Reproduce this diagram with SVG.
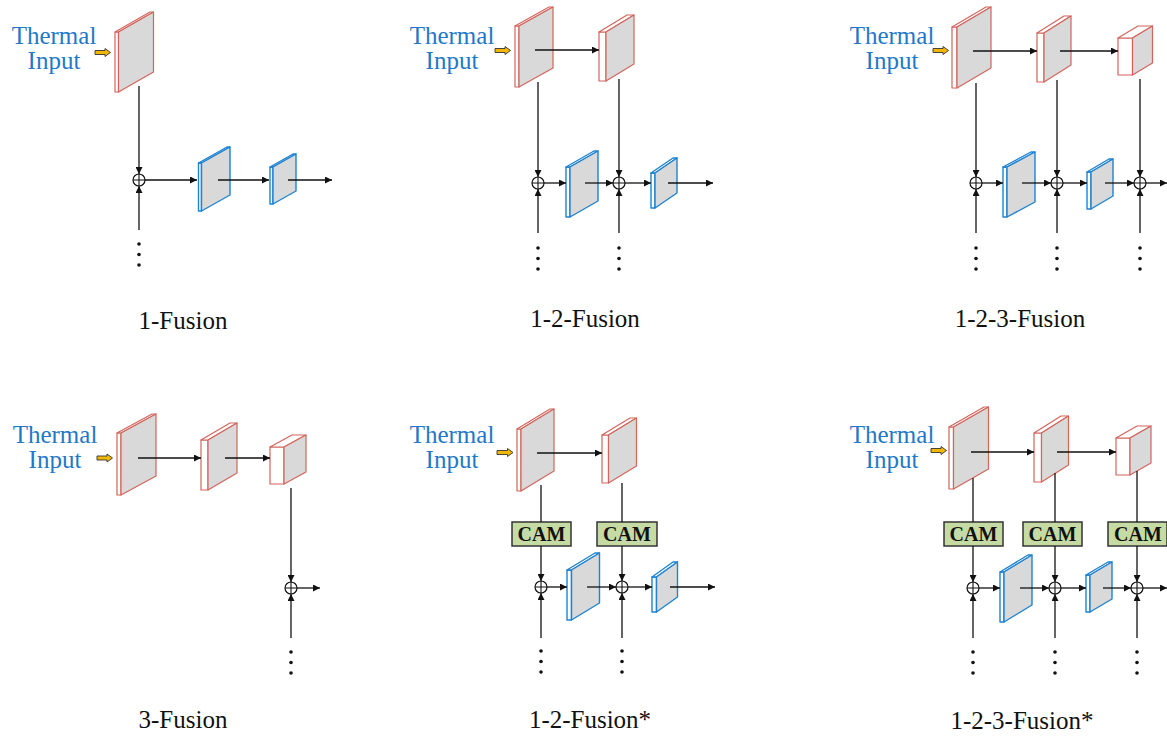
<svg xmlns="http://www.w3.org/2000/svg" width="1167" height="737" viewBox="0 0 1167 737">
<style>
.th{font-family:"Liberation Serif","Times New Roman",serif;font-size:25px;fill:#1f78c8;text-anchor:middle}
.cap{font-family:"Liberation Serif","Times New Roman",serif;font-size:25px;fill:#111;text-anchor:middle}
.cam rect{fill:#c6dba3;stroke:#333;stroke-width:1.5}
.cam text{font-family:"Liberation Serif","Times New Roman",serif;font-size:20px;font-weight:bold;fill:#111;text-anchor:middle}
.r rect,.r polygon{fill:#fff;stroke:#d4655d;stroke-width:1.2;stroke-linejoin:round}
.b rect,.b polygon{fill:#fff;stroke:#1f83d2;stroke-width:1.4;stroke-linejoin:round}
.r .s,.b .s{fill:#d9d9d9}
.ya{fill:#f2b705;stroke:#333;stroke-width:0.9}
.ln{stroke:#111;stroke-width:1.3;fill:none}
.ar{stroke:#111;stroke-width:1.3;fill:none;marker-end:url(#ah)}
.sum{fill:#fff;stroke:#111;stroke-width:1.2}
.dot{fill:#111}
</style>
<defs>
<marker id="ah" viewBox="0 0 10 10" refX="10" refY="5" markerWidth="10" markerHeight="7" markerUnits="userSpaceOnUse" orient="auto"><path d="M0,0 L10,5 L0,10 z" fill="#111"/></marker>
<g id="plus"><circle class="sum" r="6"/><path d="M-6,0H6M0,-6V6" stroke="#111" stroke-width="1.1"/></g>
<g id="dots"><circle class="dot" cx="0" cy="0" r="1.8"/><circle class="dot" cx="0" cy="10.5" r="1.8"/><circle class="dot" cx="0" cy="21" r="1.8"/></g>
</defs>

<!-- ===== Panel 1: 1-Fusion ===== -->
<g id="p1-input"><text class="th" x="54" y="44">Thermal</text><text class="th" x="54" y="69">Input</text>
<path class="ya" d="M95,50.5H105V48.5L110.5,52.5L105,56.5V54.5H95Z"/></g>
<g id="p1-t1" class="r"><rect x="115" y="32" width="3.5" height="60"/><polygon points="115,32 118.5,32 153.5,12 150,12"/><polygon class="s" points="118.5,32 153.5,12 153.5,72 118.5,92"/></g>
<g id="p1-v1" class="b"><rect x="198.5" y="163" width="3" height="48"/><polygon points="198.5,163 201.5,163 230,147 227,147"/><polygon class="s" points="201.5,163 230,147 230,195 201.5,211"/></g>
<g id="p1-v2" class="b"><rect x="270" y="167" width="3" height="37"/><polygon points="270,167 273,167 296,154 293,154"/><polygon class="s" points="273,167 296,154 296,191 273,204"/></g>
<g id="p1-sum"><use href="#plus" x="139" y="180"/></g>
<g id="p1-more"><use href="#dots" x="139" y="244"/></g>
<g id="p1-connectors">
<line class="ar" x1="139" y1="86" x2="139" y2="174"/>
<line class="ar" x1="139" y1="230" x2="139" y2="186"/>
<line class="ar" x1="145" y1="180" x2="197" y2="180"/>
<line class="ar" x1="218" y1="180" x2="269" y2="180"/>
<line class="ar" x1="288" y1="180" x2="332" y2="180"/>
</g>
<text id="p1-caption" class="cap" x="183" y="329">1-Fusion</text>

<!-- ===== Panel 2: 1-2-Fusion ===== -->
<g id="p2-input"><text class="th" x="452" y="44">Thermal</text><text class="th" x="452" y="69">Input</text>
<path class="ya" d="M495,48.5H505V46.5L510.5,50.5L505,54.5V52.5H495Z"/></g>
<g id="p2-t1" class="r"><rect x="515" y="26" width="4" height="61"/><polygon points="515,26 519,26 553,7 549,7"/><polygon class="s" points="519,26 553,7 553,68 519,87"/></g>
<g id="p2-t2" class="r"><rect x="599" y="32" width="7" height="49"/><polygon points="599,32 606,32 634,15 627,15"/><polygon class="s" points="606,32 634,15 634,64 606,81"/></g>
<g id="p2-v1" class="b"><rect x="566" y="167" width="4" height="50"/><polygon points="566,167 570,167 598,151 594,151"/><polygon class="s" points="570,167 598,151 598,201 570,217"/></g>
<g id="p2-v2" class="b"><rect x="651" y="173" width="4" height="35"/><polygon points="651,173 655,173 677,158 673,158"/><polygon class="s" points="655,173 677,158 677,193 655,208"/></g>
<g id="p2-sum1"><use href="#plus" x="538" y="183"/></g>
<g id="p2-sum2"><use href="#plus" x="619" y="183"/></g>
<g id="p2-more"><use href="#dots" x="538" y="248"/><use href="#dots" x="619" y="248"/></g>
<g id="p2-connectors">
<line class="ar" x1="535" y1="50" x2="599" y2="50"/>
<line class="ar" x1="538" y1="82" x2="538" y2="177"/>
<line class="ar" x1="619" y1="79" x2="619" y2="177"/>
<line class="ar" x1="538" y1="233" x2="538" y2="189"/>
<line class="ar" x1="619" y1="233" x2="619" y2="189"/>
<line class="ar" x1="544" y1="183" x2="566" y2="183"/>
<line class="ar" x1="585" y1="183" x2="613" y2="183"/>
<line class="ar" x1="625" y1="183" x2="651" y2="183"/>
<line class="ar" x1="668" y1="183" x2="713" y2="183"/>
</g>
<text id="p2-caption" class="cap" x="585" y="327">1-2-Fusion</text>

<!-- ===== Panel 3: 1-2-3-Fusion ===== -->
<g id="p3-input"><text class="th" x="892" y="44">Thermal</text><text class="th" x="892" y="69">Input</text>
<path class="ya" d="M933,48.5H943V46.5L948.5,50.5L943,54.5V52.5H933Z"/></g>
<g id="p3-t1" class="r"><rect x="952" y="27" width="5" height="61"/><polygon points="952,27 957,27 991,7 986,7"/><polygon class="s" points="957,27 991,7 991,68 957,88"/></g>
<g id="p3-t2" class="r"><rect x="1037" y="33" width="7" height="49"/><polygon points="1037,33 1044,33 1071,16 1064,16"/><polygon class="s" points="1044,33 1071,16 1071,65 1044,82"/></g>
<g id="p3-t3" class="r"><rect x="1118" y="38" width="14.5" height="37"/><polygon points="1118,38 1132.5,38 1152.5,26 1138,26"/><polygon class="s" points="1132.5,38 1152.5,26 1152.5,63 1132.5,75"/></g>
<g id="p3-v1" class="b"><rect x="1003" y="167" width="4" height="50"/><polygon points="1003,167 1007,167 1035,152 1031,152"/><polygon class="s" points="1007,167 1035,152 1035,202 1007,217"/></g>
<g id="p3-v2" class="b"><rect x="1087" y="172" width="4" height="37"/><polygon points="1087,172 1091,172 1113,159 1109,159"/><polygon class="s" points="1091,172 1113,159 1113,196 1091,209"/></g>
<g id="p3-sum1"><use href="#plus" x="976" y="183"/></g>
<g id="p3-sum2"><use href="#plus" x="1057" y="183"/></g>
<g id="p3-sum3"><use href="#plus" x="1140" y="183"/></g>
<g id="p3-more"><use href="#dots" x="976" y="248"/><use href="#dots" x="1057" y="248"/><use href="#dots" x="1140" y="248"/></g>
<g id="p3-connectors">
<line class="ar" x1="973" y1="51" x2="1037" y2="51"/>
<line class="ar" x1="1060" y1="51" x2="1118" y2="51"/>
<line class="ar" x1="976" y1="83" x2="976" y2="177"/>
<line class="ar" x1="1057" y1="80" x2="1057" y2="177"/>
<line class="ar" x1="1140" y1="79" x2="1140" y2="177"/>
<line class="ar" x1="976" y1="233" x2="976" y2="189"/>
<line class="ar" x1="1057" y1="233" x2="1057" y2="189"/>
<line class="ar" x1="1140" y1="233" x2="1140" y2="189"/>
<line class="ar" x1="982" y1="183" x2="1003" y2="183"/>
<line class="ar" x1="1022" y1="183" x2="1051" y2="183"/>
<line class="ar" x1="1063" y1="183" x2="1087" y2="183"/>
<line class="ar" x1="1105" y1="183" x2="1134" y2="183"/>
<line class="ar" x1="1146" y1="183" x2="1167" y2="183"/>
</g>
<text id="p3-caption" class="cap" x="1020" y="327">1-2-3-Fusion</text>

<!-- ===== Panel 4: 3-Fusion ===== -->
<g id="p4-input"><text class="th" x="55" y="443">Thermal</text><text class="th" x="55" y="468">Input</text>
<path class="ya" d="M97,456H107V454L112.5,458L107,462V460H97Z"/></g>
<g id="p4-t1" class="r"><rect x="117" y="433" width="4" height="62"/><polygon points="117,433 121,433 156,414 152,414"/><polygon class="s" points="121,433 156,414 156,476 121,495"/></g>
<g id="p4-t2" class="r"><rect x="201" y="440" width="7" height="50"/><polygon points="201,440 208,440 237,423 230,423"/><polygon class="s" points="208,440 237,423 237,473 208,490"/></g>
<g id="p4-t3" class="r"><rect x="270" y="447" width="14" height="37"/><polygon points="270,447 284,447 306,435 292,435"/><polygon class="s" points="284,447 306,435 306,472 284,484"/></g>
<g id="p4-sum"><use href="#plus" x="291" y="588"/></g>
<g id="p4-more"><use href="#dots" x="291" y="652"/></g>
<g id="p4-connectors">
<line class="ar" x1="138" y1="458" x2="201" y2="458"/>
<line class="ar" x1="225" y1="458" x2="270" y2="458"/>
<line class="ar" x1="291" y1="488" x2="291" y2="582"/>
<line class="ar" x1="291" y1="638" x2="291" y2="594"/>
<line class="ar" x1="297" y1="588" x2="320" y2="588"/>
</g>
<text id="p4-caption" class="cap" x="183" y="728">3-Fusion</text>

<!-- ===== Panel 5: 1-2-Fusion* ===== -->
<g id="p5-input"><text class="th" x="452" y="443">Thermal</text><text class="th" x="452" y="468">Input</text>
<path class="ya" d="M497,450.5H507.5V448.5L513,452.5L507.5,456.5V454.5H497Z"/></g>
<g id="p5-t1" class="r"><rect x="517" y="429" width="4" height="62"/><polygon points="517,429 521,429 554,409 550,409"/><polygon class="s" points="521,429 554,409 554,471 521,491"/></g>
<g id="p5-t2" class="r"><rect x="602" y="435" width="6.5" height="48"/><polygon points="602,435 608.5,435 636.5,418 630,418"/><polygon class="s" points="608.5,435 636.5,418 636.5,466 608.5,483"/></g>
<g id="p5-cam1" class="cam"><rect x="512" y="522" width="59" height="24"/><text x="541.5" y="541">CAM</text></g>
<g id="p5-cam2" class="cam"><rect x="597" y="522" width="60" height="24"/><text x="627" y="541">CAM</text></g>
<g id="p5-v1" class="b"><rect x="567" y="570" width="4.5" height="50"/><polygon points="567,570 571.5,570 599.5,553 595,553"/><polygon class="s" points="571.5,570 599.5,553 599.5,603 571.5,620"/></g>
<g id="p5-v2" class="b"><rect x="652" y="577" width="4.5" height="35"/><polygon points="652,577 656.5,577 677.5,562 673,562"/><polygon class="s" points="656.5,577 677.5,562 677.5,597 656.5,612"/></g>
<g id="p5-sum1"><use href="#plus" x="541" y="587"/></g>
<g id="p5-sum2"><use href="#plus" x="622" y="587"/></g>
<g id="p5-more"><use href="#dots" x="541" y="651"/><use href="#dots" x="622" y="651"/></g>
<g id="p5-connectors">
<line class="ar" x1="537" y1="453" x2="602" y2="453"/>
<line class="ln" x1="541" y1="485" x2="541" y2="522"/>
<line class="ln" x1="622" y1="483" x2="622" y2="522"/>
<line class="ar" x1="541" y1="546" x2="541" y2="581"/>
<line class="ar" x1="622" y1="546" x2="622" y2="581"/>
<line class="ar" x1="541" y1="638" x2="541" y2="593"/>
<line class="ar" x1="622" y1="638" x2="622" y2="593"/>
<line class="ar" x1="547" y1="587" x2="567" y2="587"/>
<line class="ar" x1="587" y1="587" x2="616" y2="587"/>
<line class="ar" x1="628" y1="587" x2="652" y2="587"/>
<line class="ar" x1="670" y1="587" x2="715" y2="587"/>
</g>
<text id="p5-caption" class="cap" x="590" y="728">1-2-Fusion*</text>

<!-- ===== Panel 6: 1-2-3-Fusion* ===== -->
<g id="p6-input"><text class="th" x="892" y="443">Thermal</text><text class="th" x="892" y="468">Input</text>
<path class="ya" d="M931,448.5H941V446.5L946.5,450.5L941,454.5V452.5H931Z"/></g>
<g id="p6-t1" class="r"><rect x="949" y="427" width="4.5" height="62"/><polygon points="949,427 953.5,427 988.5,407 984,407"/><polygon class="s" points="953.5,427 988.5,407 988.5,469 953.5,489"/></g>
<g id="p6-t2" class="r"><rect x="1034" y="433" width="7.5" height="49"/><polygon points="1034,433 1041.5,433 1068.5,416 1061,416"/><polygon class="s" points="1041.5,433 1068.5,416 1068.5,465 1041.5,482"/></g>
<g id="p6-t3" class="r"><rect x="1116" y="438" width="14" height="37"/><polygon points="1116,438 1130,438 1151,426 1137,426"/><polygon class="s" points="1130,438 1151,426 1151,463 1130,475"/></g>
<g id="p6-cam1" class="cam"><rect x="944" y="522" width="59" height="24"/><text x="973.5" y="541">CAM</text></g>
<g id="p6-cam2" class="cam"><rect x="1023" y="522" width="59" height="24"/><text x="1052.5" y="541">CAM</text></g>
<g id="p6-cam3" class="cam"><rect x="1108" y="522" width="59" height="24"/><text x="1138" y="541">CAM</text></g>
<g id="p6-v1" class="b"><rect x="1000" y="572" width="4" height="50"/><polygon points="1000,572 1004,572 1032,555 1028,555"/><polygon class="s" points="1004,572 1032,555 1032,605 1004,622"/></g>
<g id="p6-v2" class="b"><rect x="1086" y="575" width="4" height="37"/><polygon points="1086,575 1090,575 1112,562 1108,562"/><polygon class="s" points="1090,575 1112,562 1112,599 1090,612"/></g>
<g id="p6-sum1"><use href="#plus" x="973" y="588"/></g>
<g id="p6-sum2"><use href="#plus" x="1055" y="588"/></g>
<g id="p6-sum3"><use href="#plus" x="1137" y="588"/></g>
<g id="p6-more"><use href="#dots" x="973" y="652"/><use href="#dots" x="1055" y="652"/><use href="#dots" x="1137" y="652"/></g>
<g id="p6-connectors">
<line class="ar" x1="971" y1="452" x2="1034" y2="452"/>
<line class="ar" x1="1057" y1="452" x2="1116" y2="452"/>
<line class="ln" x1="973" y1="478" x2="973" y2="522"/>
<line class="ln" x1="1055" y1="473" x2="1055" y2="522"/>
<line class="ln" x1="1137" y1="471" x2="1137" y2="522"/>
<line class="ar" x1="973" y1="546" x2="973" y2="582"/>
<line class="ar" x1="1055" y1="546" x2="1055" y2="582"/>
<line class="ar" x1="1137" y1="546" x2="1137" y2="582"/>
<line class="ar" x1="973" y1="638" x2="973" y2="594"/>
<line class="ar" x1="1055" y1="638" x2="1055" y2="594"/>
<line class="ar" x1="1137" y1="638" x2="1137" y2="594"/>
<line class="ar" x1="979" y1="588" x2="1000" y2="588"/>
<line class="ar" x1="1020" y1="588" x2="1049" y2="588"/>
<line class="ar" x1="1061" y1="588" x2="1086" y2="588"/>
<line class="ar" x1="1103" y1="588" x2="1131" y2="588"/>
<line class="ar" x1="1143" y1="588" x2="1167" y2="588"/>
</g>
<text id="p6-caption" class="cap" x="1022" y="729">1-2-3-Fusion*</text>
</svg>
